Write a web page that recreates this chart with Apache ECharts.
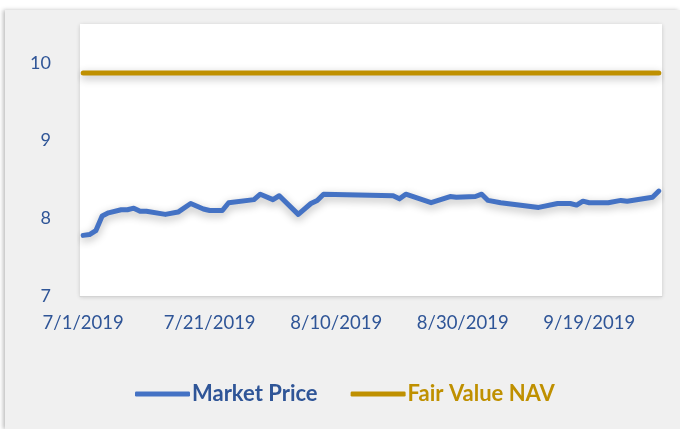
<!DOCTYPE html>
<html>
<head>
<meta charset="utf-8">
<script src="https://cdn.jsdelivr.net/npm/echarts@6/dist/echarts.min.js"></script>
<style>
  html, body { margin: 0; padding: 0; background: #fff; overflow: hidden; }
  #chart {
    position: absolute; left: 5px; top: 10px; width: 675px; height: 419px;
    background: #f0f0f0; box-shadow: -2px 0 4px rgba(0,0,0,0.25);
  }
</style>
</head>
<body>
<div id="chart"></div>
<script>
// market price readings (m/d/yyyy)
var priceDates = ["7/1/2019","7/2/2019","7/3/2019","7/4/2019","7/5/2019","7/7/2019","7/8/2019","7/9/2019",
  "7/10/2019","7/11/2019","7/14/2019","7/16/2019","7/18/2019","7/20/2019","7/21/2019","7/23/2019",
  "7/24/2019","7/28/2019","7/29/2019","7/31/2019","8/1/2019","8/4/2019","8/6/2019","8/7/2019",
  "8/8/2019","8/19/2019","8/20/2019","8/21/2019","8/25/2019","8/28/2019","8/29/2019","9/1/2019",
  "9/2/2019","9/3/2019","9/5/2019","9/11/2019","9/14/2019","9/16/2019","9/17/2019","9/18/2019",
  "9/19/2019","9/22/2019","9/24/2019","9/25/2019","9/29/2019","9/30/2019"];
var priceValues = [7.78,7.79,7.84,8.03,8.07,8.11,8.11,8.13,
  8.09,8.09,8.05,8.08,8.19,8.12,8.10,8.10,
  8.20,8.24,8.31,8.24,8.29,8.05,8.19,8.23,
  8.31,8.29,8.25,8.31,8.20,8.28,8.27,8.28,
  8.31,8.23,8.20,8.14,8.19,8.19,8.17,8.22,
  8.20,8.20,8.23,8.22,8.27,8.35];
var navDates = ["7/1/2019","9/30/2019"];
var navValues = [9.87, 9.87];
var yTicks = [7, 8, 9, 10];

var startDay = Date.UTC(2019, 6, 1);
var endDay = Date.UTC(2019, 8, 30);
var DAY = 86400000;

// every calendar day is a slot on the axis
var days = [];
for (var t = startDay; t <= endDay; t += DAY) {
  var d = new Date(t);
  days.push((d.getUTCMonth() + 1) + "/" + d.getUTCDate() + "/" + d.getUTCFullYear());
}

function toPoints(dates, vals) {
  return dates.map(function (s, i) {
    return [days.indexOf(s), vals[i]];
  });
}

var lineShadow = { shadowColor: "rgba(0,0,0,0.3)", shadowBlur: 8, shadowOffsetY: 3 };

var chart = echarts.init(document.getElementById("chart"));
var option = {
  animation: false,
  textStyle: { fontFamily: "Lato" },
  grid: {
    left: 75, right: 18, top: 14, bottom: 133,
    show: true, backgroundColor: "#fff", borderWidth: 0,
    shadowColor: "rgba(0,0,0,0.18)", shadowBlur: 4, shadowOffsetY: 1
  },
  xAxis: {
    type: "category",
    data: days,
    boundaryGap: true,
    axisLine: { show: true, lineStyle: { color: "#d4d4d4", width: 1 } },
    axisTick: { show: false },
    axisLabel: { interval: 19, color: "#2f5597", fontSize: 18.5, margin: 18 }
  },
  yAxis: {
    type: "value",
    min: yTicks[0], max: 10.5, interval: 1,
    splitLine: { show: false },
    axisLine: { show: false },
    axisTick: { show: false },
    axisLabel: { showMaxLabel: false, color: "#2f5597", fontSize: 18, margin: 29 }
  },
  legend: {
    left: 125, top: 368,
    icon: "roundRect", itemWidth: 55, itemHeight: 5, itemGap: 33,
    textStyle: { fontSize: 22, fontWeight: "bold", padding: [0, 0, 0, -3] },
    data: [
      { name: "Market Price", textStyle: { color: "#2f5597" } },
      { name: "Fair Value NAV", textStyle: { color: "#bf9000" } }
    ]
  },
  series: [
    {
      name: "Market Price",
      type: "line",
      data: toPoints(priceDates, priceValues),
      symbol: "none",
      connectNulls: true,
      itemStyle: { color: "#4472c4" },
      lineStyle: Object.assign({ color: "#4472c4", width: 5, cap: "round", join: "round" }, lineShadow)
    },
    {
      name: "Fair Value NAV",
      type: "line",
      data: toPoints(navDates, navValues),
      symbol: "none",
      itemStyle: { color: "#bf9000" },
      lineStyle: Object.assign({ color: "#bf9000", width: 5, cap: "round" }, lineShadow)
    }
  ]
};
chart.setOption(option);
</script>
</body>
</html>
